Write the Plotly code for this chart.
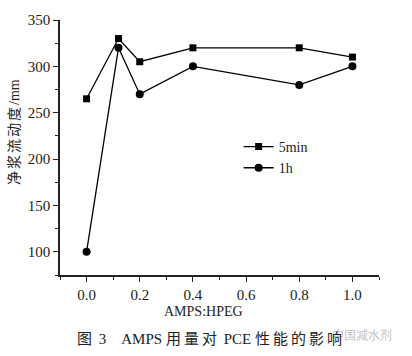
import re
import plotly.graph_objects as go

ratio = [0.0, 0.12, 0.2, 0.4, 0.8, 1.0]
flow_5min = [265, 330, 305, 320, 320, 310]
flow_1h = [100, 320, 270, 300, 280, 300]
series_names = ["5min", "1h"]
x_title = "AMPS:HPEG"
y_title = "净浆流动度/mm"
caption = "图 3　AMPS 用量对 PCE 性能的影响"
watermark = "中国减水剂"

SERIF = "Liberation Serif, Times New Roman, serif"
MIXED = "Liberation Serif, Noto Sans CJK SC, serif"
CJK = "Noto Sans CJK SC, sans-serif"


def spaced(text, px):
    # add letter spacing only to CJK runs
    parts = re.split(r"([\u4e00-\u9fff]+)", text)
    out = []
    for p in parts:
        if not p:
            continue
        if re.match(r"[\u4e00-\u9fff]", p):
            out.append('<span style="letter-spacing:%dpx">%s</span>' % (px, p))
        else:
            out.append(p)
    return "".join(out)


fig = go.Figure()
fig.add_trace(go.Scatter(x=ratio, y=flow_5min, name=series_names[0], mode="lines+markers",
                         line=dict(color="black", width=1.3),
                         marker=dict(symbol="square", size=7, color="black")))
fig.add_trace(go.Scatter(x=ratio, y=flow_1h, name=series_names[1], mode="lines+markers",
                         line=dict(color="black", width=1.3),
                         marker=dict(symbol="circle", size=8, color="black")))

fig.update_layout(
    width=412, height=356,
    margin=dict(l=60, r=33, t=17, b=81),
    paper_bgcolor="white", plot_bgcolor="white",
    font=dict(family=SERIF, size=15, color="#222"),
    legend=dict(x=0.56, y=0.565, xanchor="left", yanchor="top",
                bgcolor="rgba(0,0,0,0)", font=dict(family=SERIF, size=14),
                tracegroupgap=0, itemwidth=30),
    xaxis=dict(range=[-0.1, 1.1], dtick=0.2, tick0=0, tickformat=".1f",
               showgrid=False, zeroline=False, showline=True, linecolor="#222",
               linewidth=1.5, ticks="outside", ticklen=5, tickwidth=1.2, tickcolor="#222",
               minor=dict(dtick=0.1, ticks="outside", ticklen=3, tickcolor="#222", showgrid=False),
               tickfont=dict(family=SERIF, size=15)),
    yaxis=dict(range=[75, 350], dtick=50, tick0=100,
               showgrid=False, zeroline=False, showline=True, linecolor="#222",
               linewidth=1.5, ticks="outside", ticklen=5, tickwidth=1.2, tickcolor="#222",
               minor=dict(dtick=25, ticks="outside", ticklen=3, tickcolor="#222", showgrid=False),
               tickfont=dict(family=SERIF, size=15)),
    annotations=[
        dict(text=x_title, xref="paper", yref="paper", x=0.45, y=-0.145,
             xanchor="center", yanchor="middle", showarrow=False,
             font=dict(family=SERIF, size=14)),
        dict(text=spaced(y_title, 2),
             xref="paper", yref="paper", x=-0.145, y=0.56,
             xanchor="center", yanchor="middle", textangle=-90, showarrow=False,
             font=dict(family=MIXED, size=14)),
        dict(text=watermark, xref="paper", yref="paper", x=0.947, y=-0.233,
             xanchor="center", yanchor="middle", showarrow=False,
             font=dict(family=CJK, size=12, color="#c4c4c4")),
        dict(text=spaced(caption, 3),
             xref="paper", yref="paper", x=0.473, y=-0.252,
             xanchor="center", yanchor="middle", showarrow=False,
             font=dict(family=MIXED, size=15, color="#222")),
    ],
)

fig.write_html("out.html", config={"displayModeBar": False},
               post_script="document.body.style.margin='0';document.body.style.overflow='hidden';")
